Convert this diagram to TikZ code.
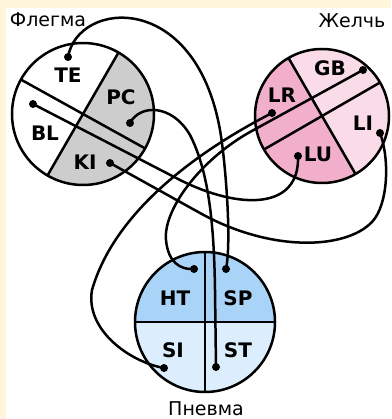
\documentclass[tikz,border=0pt]{standalone}
\usepackage{fontspec}
\setmainfont{DejaVu Sans}
\usetikzlibrary{calc}
\definecolor{cream}{HTML}{FFF6DC}
\definecolor{phlegmgray}{HTML}{CDCDCD}
\definecolor{biledark}{HTML}{F2AFCB}
\definecolor{bilelight}{HTML}{F9DCE7}
\definecolor{pneumadark}{HTML}{A9D4F7}
\definecolor{pneumalight}{HTML}{DCEEFD}
\begin{document}
\begin{tikzpicture}[x=1pt,y=-1pt,line width=2.5pt,
  dot/.style={circle,fill=black,inner sep=0pt,minimum size=8pt},
  organ/.style={font=\fontsize{20}{20}\selectfont\bfseries,inner sep=0pt},
  title/.style={font=\fontsize{19}{19}\selectfont,inner sep=0pt},
  wire/.style={draw=black,line width=2.5pt}]
% page and panel
\fill[cream] (0,0) rectangle (391,419);
\fill[white] (6,8) rectangle (391,419);
\useasboundingbox (0,0) rectangle (391,419);

% ---- Phlegm: two perpendicular diameters, right half shaded
\coordinate (ph) at (83,114);
\fill[phlegmgray] ($(ph)+(300:71)$) arc[start angle=300,end angle=480,radius=71] -- cycle;
\draw ($(ph)+(209:71)$) -- ($(ph)+(29:71)$);
\draw ($(ph)+(300:71)$) -- ($(ph)+(120:71)$);
\draw (ph) circle[radius=71];

% ---- Bile
\coordinate (bi) at (322,116);
\fill[bilelight] (bi) circle[radius=67];
\fill[biledark] ($(bi)+(60:67)$) arc[start angle=60,end angle=240,radius=67] -- cycle;
\draw ($(bi)+(240:67)$) -- ($(bi)+(60:67)$);
\draw ($(bi)+(330:67)$) -- ($(bi)+(150:67)$);
\draw (bi) circle[radius=67];

% ---- Pneuma
\coordinate (pn) at (205,322);
\fill[pneumalight] (pn) circle[radius=70];
\fill[pneumadark] ($(pn)+(180:70)$) arc[start angle=180,end angle=360,radius=70] -- cycle;
\draw ($(pn)+(270:70)$) -- ($(pn)+(90:70)$);
\draw ($(pn)+(180:70)$) -- ($(pn)+(0:70)$);
\draw (pn) circle[radius=70];

% ---- titles
\node[title] (tPh) at (48,20) {Флегма};
\node[title] (tBi) at (352,21) {Желчь};
\node[title] (tPn) at (206,409) {Пневма};

% ---- organ labels
\node[organ] (lTE) at (68,75) {TE};
\node[organ] (lPC) at (121,97) {PC};
\node[organ] (lBL) at (45,133) {BL};
\node[organ] (lKI) at (85,162) {KI};
\node[organ] (lGB) at (330,68) {GB};
\node[organ] (lLR) at (282,95) {LR};
\node[organ] (lLI) at (363,123) {LI};
\node[organ] (lLU) at (318,154) {LU};
\node[organ] (lHT) at (175,298) {HT};
\node[organ] (lSP) at (238,298) {SP};
\node[organ] (lSI) at (173,350) {SI};
\node[organ] (lST) at (238,350) {ST};

% ---- connection points
\node[dot] (dTE) at (68,57) {};
\node[dot] (dPC) at (130,123) {};
\node[dot] (dBL) at (33,104) {};
\node[dot] (dKI) at (110,163) {};
\node[dot] (dGB) at (363,70) {};
\node[dot] (dLR) at (272,113) {};
\node[dot] (dLI) at (380,133) {};
\node[dot] (dLU) at (298,156) {};
\node[dot] (dHT) at (194,269) {};
\node[dot] (dSP) at (226,269) {};
\node[dot] (dSI) at (164,368) {};
\node[dot] (dST) at (216,367) {};

% ---- connectors
\draw[wire] (dTE.center) .. controls (78,0) and (195,-10) .. (220,130)
  .. controls (225,158) and (232,240) .. (dSP.center);
\draw[wire] (dPC.center) .. controls (140,104) and (172,104) .. (190,135)
  .. controls (208,170) and (214,220) .. (215,290) -- (dST.center);
\draw[wire] (dBL.center) -- (180,180) .. controls (240,210) and (300,210) .. (dLU.center);
\draw[wire] (dKI.center) -- (200,213) .. controls (270,252) and (345,250) .. (372,222)
  .. controls (388,205) and (390,160) .. (dLI.center);
\draw[wire] (dLR.center) .. controls (200,150) and (115,210) .. (92,290)
  .. controls (85,330) and (130,362) .. (dSI.center);
\draw[wire] (dGB.center) -- (250,132) .. controls (200,160) and (163,210) .. (166,240)
  .. controls (168,262) and (180,270) .. (dHT.center);
\end{tikzpicture}
\end{document}
